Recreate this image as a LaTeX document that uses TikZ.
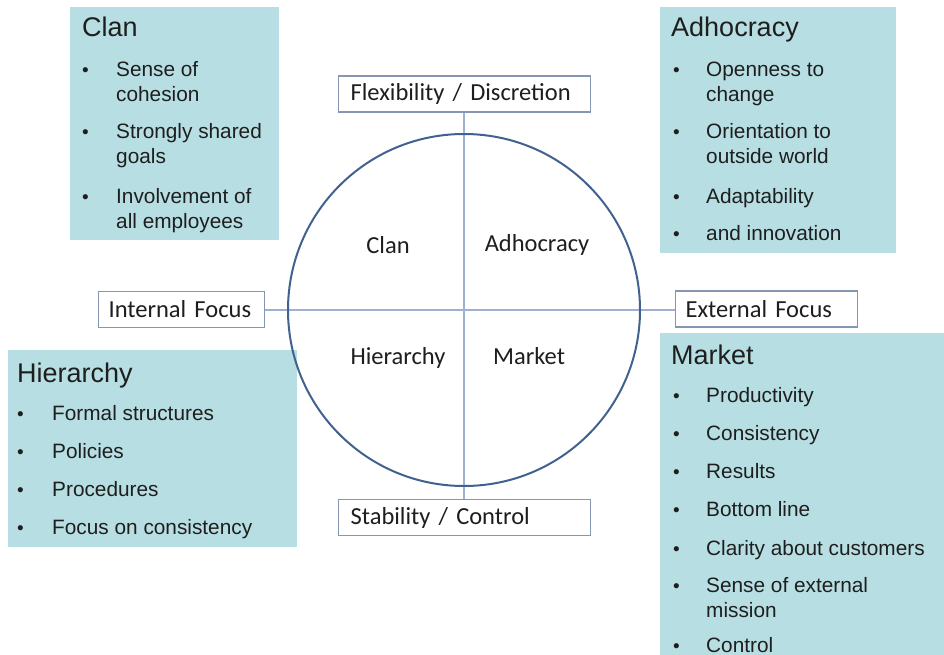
\documentclass[tikz,border=0pt]{standalone}
\usepackage{fontspec}
\setmainfont{Liberation Sans}
\newfontfamily\calibri{Carlito}
\definecolor{teal}{HTML}{B7DFE3}
\definecolor{ringblue}{HTML}{41628F}
\definecolor{axisblue}{HTML}{9DB2D0}
\definecolor{framegrey}{HTML}{8496B4}
\definecolor{inktext}{HTML}{1E1E1E}
\begin{document}
\begin{tikzpicture}[x=1pt, y=-1pt,
  panel/.style={fill=teal, draw=none},
  title/.style={anchor=base west, inner sep=0pt, font=\fontsize{27}{30}\selectfont, text=inktext},
  itemtext/.style={anchor=base west, inner sep=0pt, font=\fontsize{20.8}{25}\selectfont, text=inktext},
  bul/.style={anchor=base west, inner sep=0pt, font=\fontsize{19}{25}\selectfont, text=inktext},
  lblbox/.style={draw=framegrey, fill=white, line width=1.2pt, minimum height=36pt, inner xsep=10pt, anchor=west, align=left, text=inktext, font=\calibri\fontsize{24.5}{28}\selectfont},
  quad/.style={inner sep=0pt, text=inktext, font=\calibri\fontsize{24.5}{28}\selectfont}]
\useasboundingbox (0,0) rectangle (944,655);
% panels
\fill[panel] (70,7) rectangle (279,240);
\fill[panel] (660,7) rectangle (896,253);
\fill[panel] (8,350) rectangle (297,547);
\fill[panel] (660,333) rectangle (960,670);
% clan
\node[title] (clanT) at (82,37) {Clan};
\node[bul] (cb1) at (82,77) {\textbullet};
\node[itemtext] (c1a) at (116,77) {Sense of};
\node[itemtext] (c1b) at (116,102) {cohesion};
\node[bul] (cb2) at (82,139) {\textbullet};
\node[itemtext] (c2a) at (116,139) {Strongly shared};
\node[itemtext] (c2b) at (116,164) {goals};
\node[bul] (cb3) at (82,203) {\textbullet};
\node[itemtext] (c3a) at (116,203) {Involvement of};
\node[itemtext] (c3b) at (116,228) {all employees};
% adhocracy
\node[title] (adhT) at (671,37) {Adhocracy};
\node[bul] (ab1) at (673,77) {\textbullet};
\node[itemtext] (a1a) at (706,77) {Openness to};
\node[itemtext] (a1b) at (706,102) {change};
\node[bul] (ab2) at (673,139) {\textbullet};
\node[itemtext] (a2a) at (706,139) {Orientation to};
\node[itemtext] (a2b) at (706,164) {outside world};
\node[bul] (ab3) at (673,203) {\textbullet};
\node[itemtext] (a3a) at (706,203) {Adaptability};
\node[bul] (ab4) at (673,240) {\textbullet};
\node[itemtext] (a4a) at (706,240) {and innovation};
% hierarchy
\node[title] (hieT) at (17,382) {Hierarchy};
\node[bul] (hb1) at (17,420) {\textbullet};
\node[itemtext] (h1) at (52,420) {Formal structures};
\node[bul] (hb2) at (17,458) {\textbullet};
\node[itemtext] (h2) at (52,458) {Policies};
\node[bul] (hb3) at (17,496) {\textbullet};
\node[itemtext] (h3) at (52,496) {Procedures};
\node[bul] (hb4) at (17,534) {\textbullet};
\node[itemtext] (h4) at (52,534) {Focus on consistency};
% market
\node[title] (marT) at (671,364) {Market};
\node[bul] (mb1) at (673,402) {\textbullet};
\node[itemtext] (m1) at (706,402) {Productivity};
\node[bul] (mb2) at (673,440) {\textbullet};
\node[itemtext] (m2) at (706,440) {Consistency};
\node[bul] (mb3) at (673,478) {\textbullet};
\node[itemtext] (m3) at (706,478) {Results};
\node[bul] (mb4) at (673,516) {\textbullet};
\node[itemtext] (m4) at (706,516) {Bottom line};
\node[bul] (mb5) at (673,555) {\textbullet};
\node[itemtext] (m5) at (706,555) {Clarity about customers};
\node[bul] (mb6) at (673,592) {\textbullet};
\node[itemtext] (m6a) at (706,592) {Sense of external};
\node[itemtext] (m6b) at (706,617) {mission};
\node[bul] (mb7) at (673,652) {\textbullet};
\node[itemtext] (m7) at (706,652) {Control};
% axes and circle
\node[lblbox, inner xsep=12pt, text width=228pt] (flex) at (338,94) {Flexibility / Discretion};
\node[lblbox, inner xsep=12pt, text width=228pt] (stab) at (338,517.5) {Stability / Control};
\node[lblbox, text width=146pt] (intl) at (98,309.5) {Internal Focus};
\node[lblbox, text width=162pt] (extl) at (675,309) {External Focus};
\draw[axisblue, line width=1.2pt] (flex.south -| 464,0) -- (stab.north -| 464,0);
\draw[axisblue, line width=1.2pt] (intl.east |- 0,310) -- (extl.west |- 0,310);
\node[circle, draw=ringblue, line width=2pt, minimum size=352pt, inner sep=0pt] (ring) at (464,310) {};
\node[quad] (qclan) at (388,245) {Clan};
\node[quad] (qadh) at (537,245) {Adhocracy};
\node[quad] (qhie) at (398,358) {Hierarchy};
\node[quad] (qmar) at (529,356) {Market};
\end{tikzpicture}
\end{document}
